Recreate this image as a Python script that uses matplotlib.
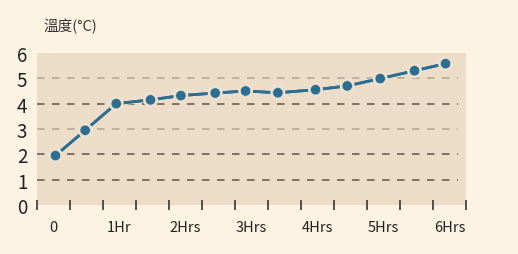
import matplotlib.pyplot as plt
import matplotlib.patheffects as pe

plt.rcParams['font.family'] = ['Noto Sans CJK TC', 'DejaVu Sans']

# readings (time in hours, temperature in °C)
hours = [0.03, 0.48, 0.95, 1.47, 1.93, 2.45, 2.91, 3.40, 3.97, 4.45, 4.95, 5.47, 5.94]
temps = [1.95, 2.95, 4.0, 4.15, 4.32, 4.42, 4.5, 4.43, 4.55, 4.7, 4.99, 5.3, 5.58]
hour_labels = ['0', '1Hr', '2Hrs', '3Hrs', '4Hrs', '5Hrs', '6Hrs']
y_levels = [0, 1, 2, 3, 4, 5, 6]
light_levels = [3, 5]
title = '溫度(°C)'

bg = '#fdf3e3'
panel = '#ecdcc8'
blue = '#2b6e92'

fig = plt.figure(figsize=(5.18, 2.55), dpi=100, facecolor=bg)
ax = fig.add_axes([37 / 518, 1 - 206 / 255, (466 - 37) / 518, (206 - 54) / 255])
ax.set_facecolor(panel)
for s in ax.spines.values():
    s.set_visible(False)

ax.set_xlim(-0.25, 6.25)
ax.set_ylim(0, 6)

# dashed guides, some lighter than others
for lv in y_levels[1:-1]:
    col = '#b5a999' if lv in light_levels else '#6b5f55'
    ax.axhline(lv, xmin=0, xmax=0.982, color=col, lw=1.2,
               dashes=(4.5, 4.5), zorder=1)

# y axis: labels on major, marks on minor
ax.set_yticks(y_levels)
ax.set_yticklabels([str(v) for v in y_levels], fontsize=13.5, color='#222222')
ax.set_yticks(y_levels[1:-1], minor=True)
ax.tick_params(axis='y', which='major', length=0, pad=7)
ax.tick_params(axis='y', which='minor', direction='inout', length=8,
               width=1.3, color='#333333')

# x axis: marks on major (quarter hours), labels on minor (hours)
n = len(hour_labels)
ax.set_xticks([i * 0.5 - 0.25 for i in range(2 * n)])
ax.set_xticklabels([])
ax.set_xticks(list(range(n)), minor=True)
ax.set_xticklabels(hour_labels, minor=True, fontsize=10.5, color='#222222')
ax.tick_params(axis='x', which='major', direction='inout', length=7.5,
               width=1.3, color='#444444')
ax.tick_params(axis='x', which='minor', length=0, pad=11)

ax.plot(hours, temps, color=blue, lw=2, marker='o', ms=7.5,
        mec='#efe2cf', mew=0.5, zorder=3,
        path_effects=[pe.withStroke(linewidth=3.2, foreground='#efe2cf'), pe.Normal()])

fig.text(43 / 518, 1 - 27 / 255, title, fontsize=10.5, va='center', ha='left',
         color='#333333')

fig.savefig('out.png', dpi=100, facecolor=bg)
